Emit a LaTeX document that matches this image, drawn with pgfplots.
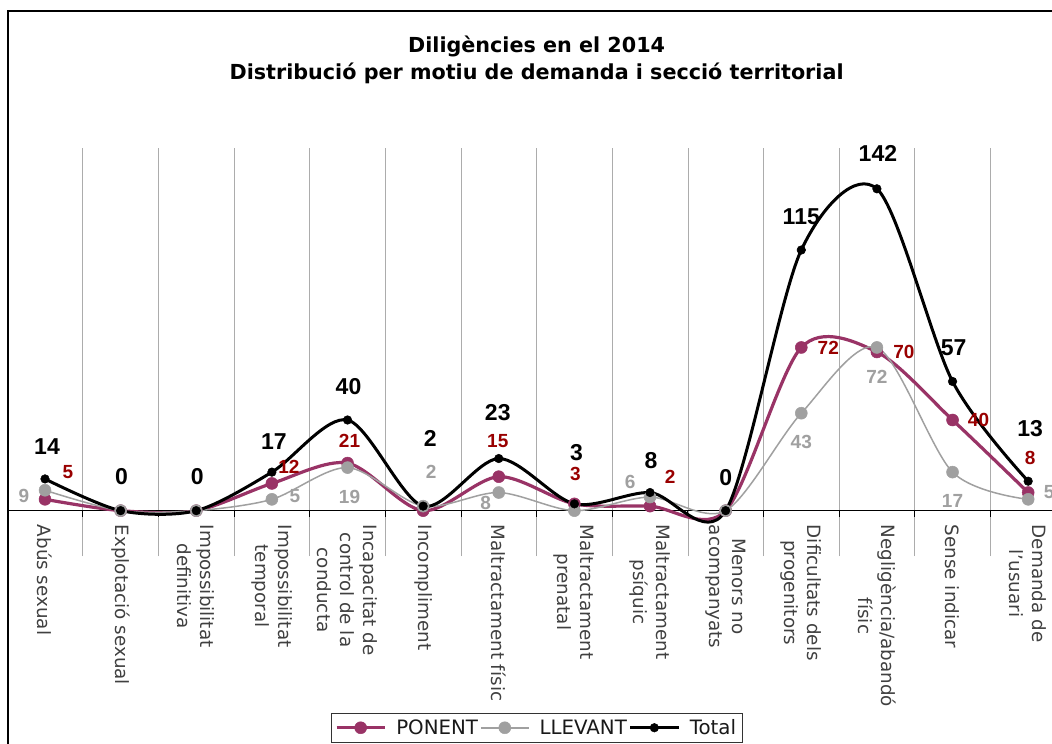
\documentclass[border=0pt]{standalone}
\usepackage{pgfplots}
\usepackage{pgfplotstable}
\pgfplotsset{compat=1.18}
\usepackage{fontspec}
\setmainfont{DejaVu Sans}
\newfontfamily\arialf{Liberation Sans}
\definecolor{ponent}{HTML}{993366}
\definecolor{ponlab}{HTML}{990000}
\definecolor{llev}{HTML}{A0A0A0}
\definecolor{ticktext}{HTML}{404040}

% dx, dy: label offset from the point, in pt
\pgfplotstableread{
x y dx dy lab
0 5 23 27 5
1 0 0 0 {}
2 0 0 0 {}
3 12 17 17 12
4 21 2 22 21
5 0 0 0 {}
6 15 -1 36 15
7 3 1 30 3
8 2 20 29 2
9 0 0 0 {}
10 72 27 0 72
11 70 27 0 70
12 40 26 0 40
13 8 2 35 8
}\ponent

\pgfplotstableread{
x y dx dy lab
0 9 -21 -6 9
1 0 0 0 {}
2 0 0 0 {}
3 5 23 3 5
4 19 2 -29 19
5 2 8 34 2
6 8 -13 -10 8
7 0 0 0 {}
8 6 -20 15 6
9 0 0 0 {}
10 43 0 -29 43
11 72 0 -29 72
12 17 0 -29 17
13 5 21 7 5
}\llevant

\pgfplotstableread{
x y dx dy lab
0 14 2 32 14
1 0 1 34 0
2 0 1 34 0
3 17 2 31 17
4 40 1 33 40
5 2 7 68 2
6 23 -1 46 23
7 3 2 51 3
8 8 1 32 8
9 0 0 33 0
10 115 0 33 115
11 142 1 35 142
12 57 1 34 57
13 13 2 53 13
}\total

\pgfplotsset{
  labelplot/.style n args={2}{draw=none, mark=none, forget plot,
    nodes near coords, point meta=explicit symbolic,
    every node near coord/.append style={anchor=center, inner sep=0pt, text=#1, font=\arialf\bfseries\fontsize{#2}{#2}\selectfont}},
}

\begin{document}
\begin{tikzpicture}
\useasboundingbox (0pt,0pt) rectangle (1052pt,744pt);
\fill[white] (0pt,0pt) rectangle (1052pt,744pt);
\draw[line width=1.5pt] (8pt,-30pt) rectangle (1090pt,733pt);
\begin{axis}[
  at={(7.2pt,188pt)}, anchor=south west,
  scale only axis, width=1058.8pt, height=408pt,
  xmin=-0.5, xmax=13.5, ymin=-20, ymax=160,
  axis x line*=middle, axis y line=none,
  hide obscured x ticks=false,
  axis line style={black, line width=0.8pt},
  xtick={0,...,13},
  xticklabels={Abús sexual, Explotació sexual, {Impossibilitat\\definitiva}, {Impossibilitat\\temporal}, {Incapacitat de\\control de la\\conducta}, Incompliment, Maltractament físic, {Maltractament\\prenatal}, {Maltractament\\psíquic}, {Menors no\\acompanyats}, {Dificultats dels\\progenitors}, {Negligència/abandó\\físic}, Sense indicar, {Demanda de\\l'usuari}},
  xticklabel style={yshift=-14pt, rotate=-90, anchor=west, align=center, inner sep=0pt, text=ticktext, font=\fontsize{18.3}{23}\selectfont},
  minor xtick={0.5,1.5,...,12.5},
  xminorgrids=true,
  minor grid style={color=gray!65, line width=0.7pt},
  major tick length=0pt, minor tick length=6pt,
  tick align=outside,
  minor tick style={black, line width=0.8pt},
  ytick=\empty,
  clip=false,
  title={Diligències en el 2014\\Distribució per motiu de demanda i secció territorial},
  title style={align=center, font=\bfseries\fontsize{20.7}{27}\selectfont, at={(0.5,1.202)}, anchor=center},
  legend style={at={(0.5,-0.385)}, anchor=north, legend columns=3, draw=black!80, line width=0.8pt,
    font=\fontsize{19.8}{22}\selectfont, text=black!90, inner sep=4pt,
    /tikz/every odd column/.append style={column sep=8pt},
    /tikz/every even column/.append style={column sep=0pt}},
  legend image code/.code={\draw[mark repeat=2,mark phase=2] plot coordinates {(0pt,0pt) (24pt,0pt) (48pt,0pt)};},
]
\addplot[color=ponent, line width=3.2pt, smooth, tension=0.5, mark=*, mark size=6pt,
  mark options={solid, fill=ponent, draw=ponent, line width=0.5pt}]
  table[x=x, y=y] {\ponent};
\addlegendentry{PONENT}
\addplot[color=llev, line width=1.5pt, smooth, tension=0.5, mark=*, mark size=6pt,
  mark options={solid, fill=llev, draw=llev, line width=0.5pt}]
  table[x=x, y=y] {\llevant};
\addlegendentry{LLEVANT}
\addplot[color=black, line width=3pt, smooth, tension=0.5, mark=*, mark size=4.3pt,
  mark options={solid, fill=black, draw=black, line width=0.5pt}]
  table[x=x, y=y] {\total};
\addlegendentry{Total}
% data labels: offsets converted from pt to axis units (75.629 pt per category, 2.2667 pt per unit)
\addplot[labelplot={ponlab}{19}] table[x expr=\thisrow{x}+\thisrow{dx}/75.629, y expr=\thisrow{y}+\thisrow{dy}/2.2667, meta=lab] {\ponent};
\addplot[labelplot={llev}{19}] table[x expr=\thisrow{x}+\thisrow{dx}/75.629, y expr=\thisrow{y}+\thisrow{dy}/2.2667, meta=lab] {\llevant};
\addplot[labelplot={black}{23}] table[x expr=\thisrow{x}+\thisrow{dx}/75.629, y expr=\thisrow{y}+\thisrow{dy}/2.2667, meta=lab] {\total};
\end{axis}
\end{tikzpicture}
\end{document}
